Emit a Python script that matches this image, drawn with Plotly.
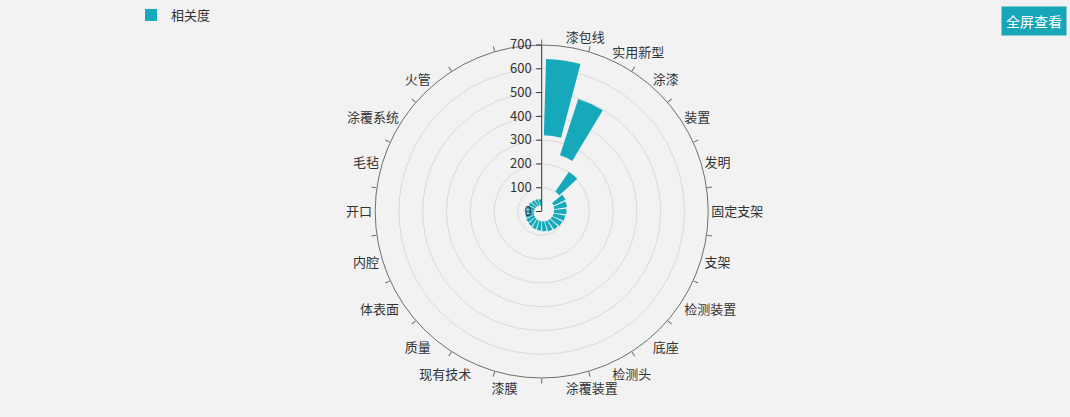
import plotly.graph_objects as go

categories = ["漆包线", "实用新型", "涂漆", "装置", "发明", "固定支架", "支架", "检测装置",
              "底座", "检测头", "涂覆装置", "漆膜", "现有技术", "质量", "体表面", "内腔",
              "开口", "毛毡", "涂覆系统", "火管", "绝缘漆", "导线"]
values = [641, 497, 203, 112, 108, 104, 100, 96, 92, 88, 84, 80, 78, 75, 72, 69,
          66, 63, 60, 57, 54, 52]
# labels shown on the angular axis (last two are not displayed in the original)
shown_labels = categories[:20]
radial_ticks = [0, 100, 200, 300, 400, 500, 600, 700]

BAR = "#15a9bb"
FONT = "Microsoft YaHei, Noto Sans CJK SC, sans-serif"
N = len(categories)
step = 360.0 / N

W, H = 1070, 417
cx, cy, R = 541.7, 211.5, 166.5
dom_x = [(cx - R) / W, (cx + R) / W]
dom_y = [(H - cy - R) / H, (H - cy + R) / H]

fig = go.Figure()

fig.add_trace(go.Barpolar(
    r=[v - v * 0.5 for v in values],
    base=[v * 0.5 for v in values],
    theta=categories,
    name="相关度",
    marker=dict(color=BAR, line=dict(width=0)),
    subplot="polar",
))

# helper trace so that the second (tick) polar gets drawn
fig.add_trace(go.Scatterpolar(r=[0], theta=[0], mode="markers", marker=dict(size=1, opacity=0),
                              showlegend=False, hoverinfo="skip", subplot="polar2"))

fig.update_layout(
    width=W, height=H,
    margin=dict(l=0, r=0, t=0, b=0),
    paper_bgcolor="#f2f2f2",
    plot_bgcolor="#f2f2f2",
    font=dict(family=FONT, size=13, color="#333"),
    showlegend=True,
    legend=dict(x=131 / W, y=1.0, xanchor="left", yanchor="top", orientation="h",
                bgcolor="rgba(0,0,0,0)", font=dict(size=13, color="#333"),
                itemwidth=30),
    polar=dict(
        domain=dict(x=dom_x, y=dom_y),
        bgcolor="rgba(0,0,0,0)",
        bargap=0.2,
        angularaxis=dict(
            type="category",
            categoryarray=categories,
            rotation=90 - step / 2,
            direction="clockwise",
            showline=True, linecolor="#6e6e6e", linewidth=1,
            showgrid=False,
            ticks="",
            tickmode="array", tickvals=shown_labels, ticktext=shown_labels,
            tickfont=dict(size=13, color="#333"),
        ),
        radialaxis=dict(
            range=[0, 700],
            tickvals=radial_ticks,
            angle=90,
            side="counterclockwise",
            tickangle=90,
            showline=True, linecolor="#333", linewidth=1,
            ticks="outside", ticklen=5, tickcolor="#333",
            showgrid=True, gridcolor="#dadada", gridwidth=1,
            tickfont=dict(size=13, color="#333"),
        ),
    ),
    polar2=dict(
        domain=dict(x=dom_x, y=dom_y),
        bgcolor="rgba(0,0,0,0)",
        angularaxis=dict(
            type="linear",
            thetaunit="degrees",
            rotation=90,
            direction="clockwise",
            showline=False,
            showgrid=False,
            ticks="outside", ticklen=5, tickcolor="#6e6e6e",
            tickmode="linear", tick0=0, dtick=step,
            showticklabels=False,
        ),
        radialaxis=dict(visible=False, range=[0, 700]),
    ),
)

fig.add_annotation(
    x=1034 / W, y=1 - 20.5 / H, xref="paper", yref="paper",
    text="全屏查看", showarrow=False,
    font=dict(size=14, color="#ffffff", family=FONT),
    bgcolor="#17a5b8", borderpad=4,
    xanchor="center", yanchor="middle",
)

fig.write_html("out.html")
